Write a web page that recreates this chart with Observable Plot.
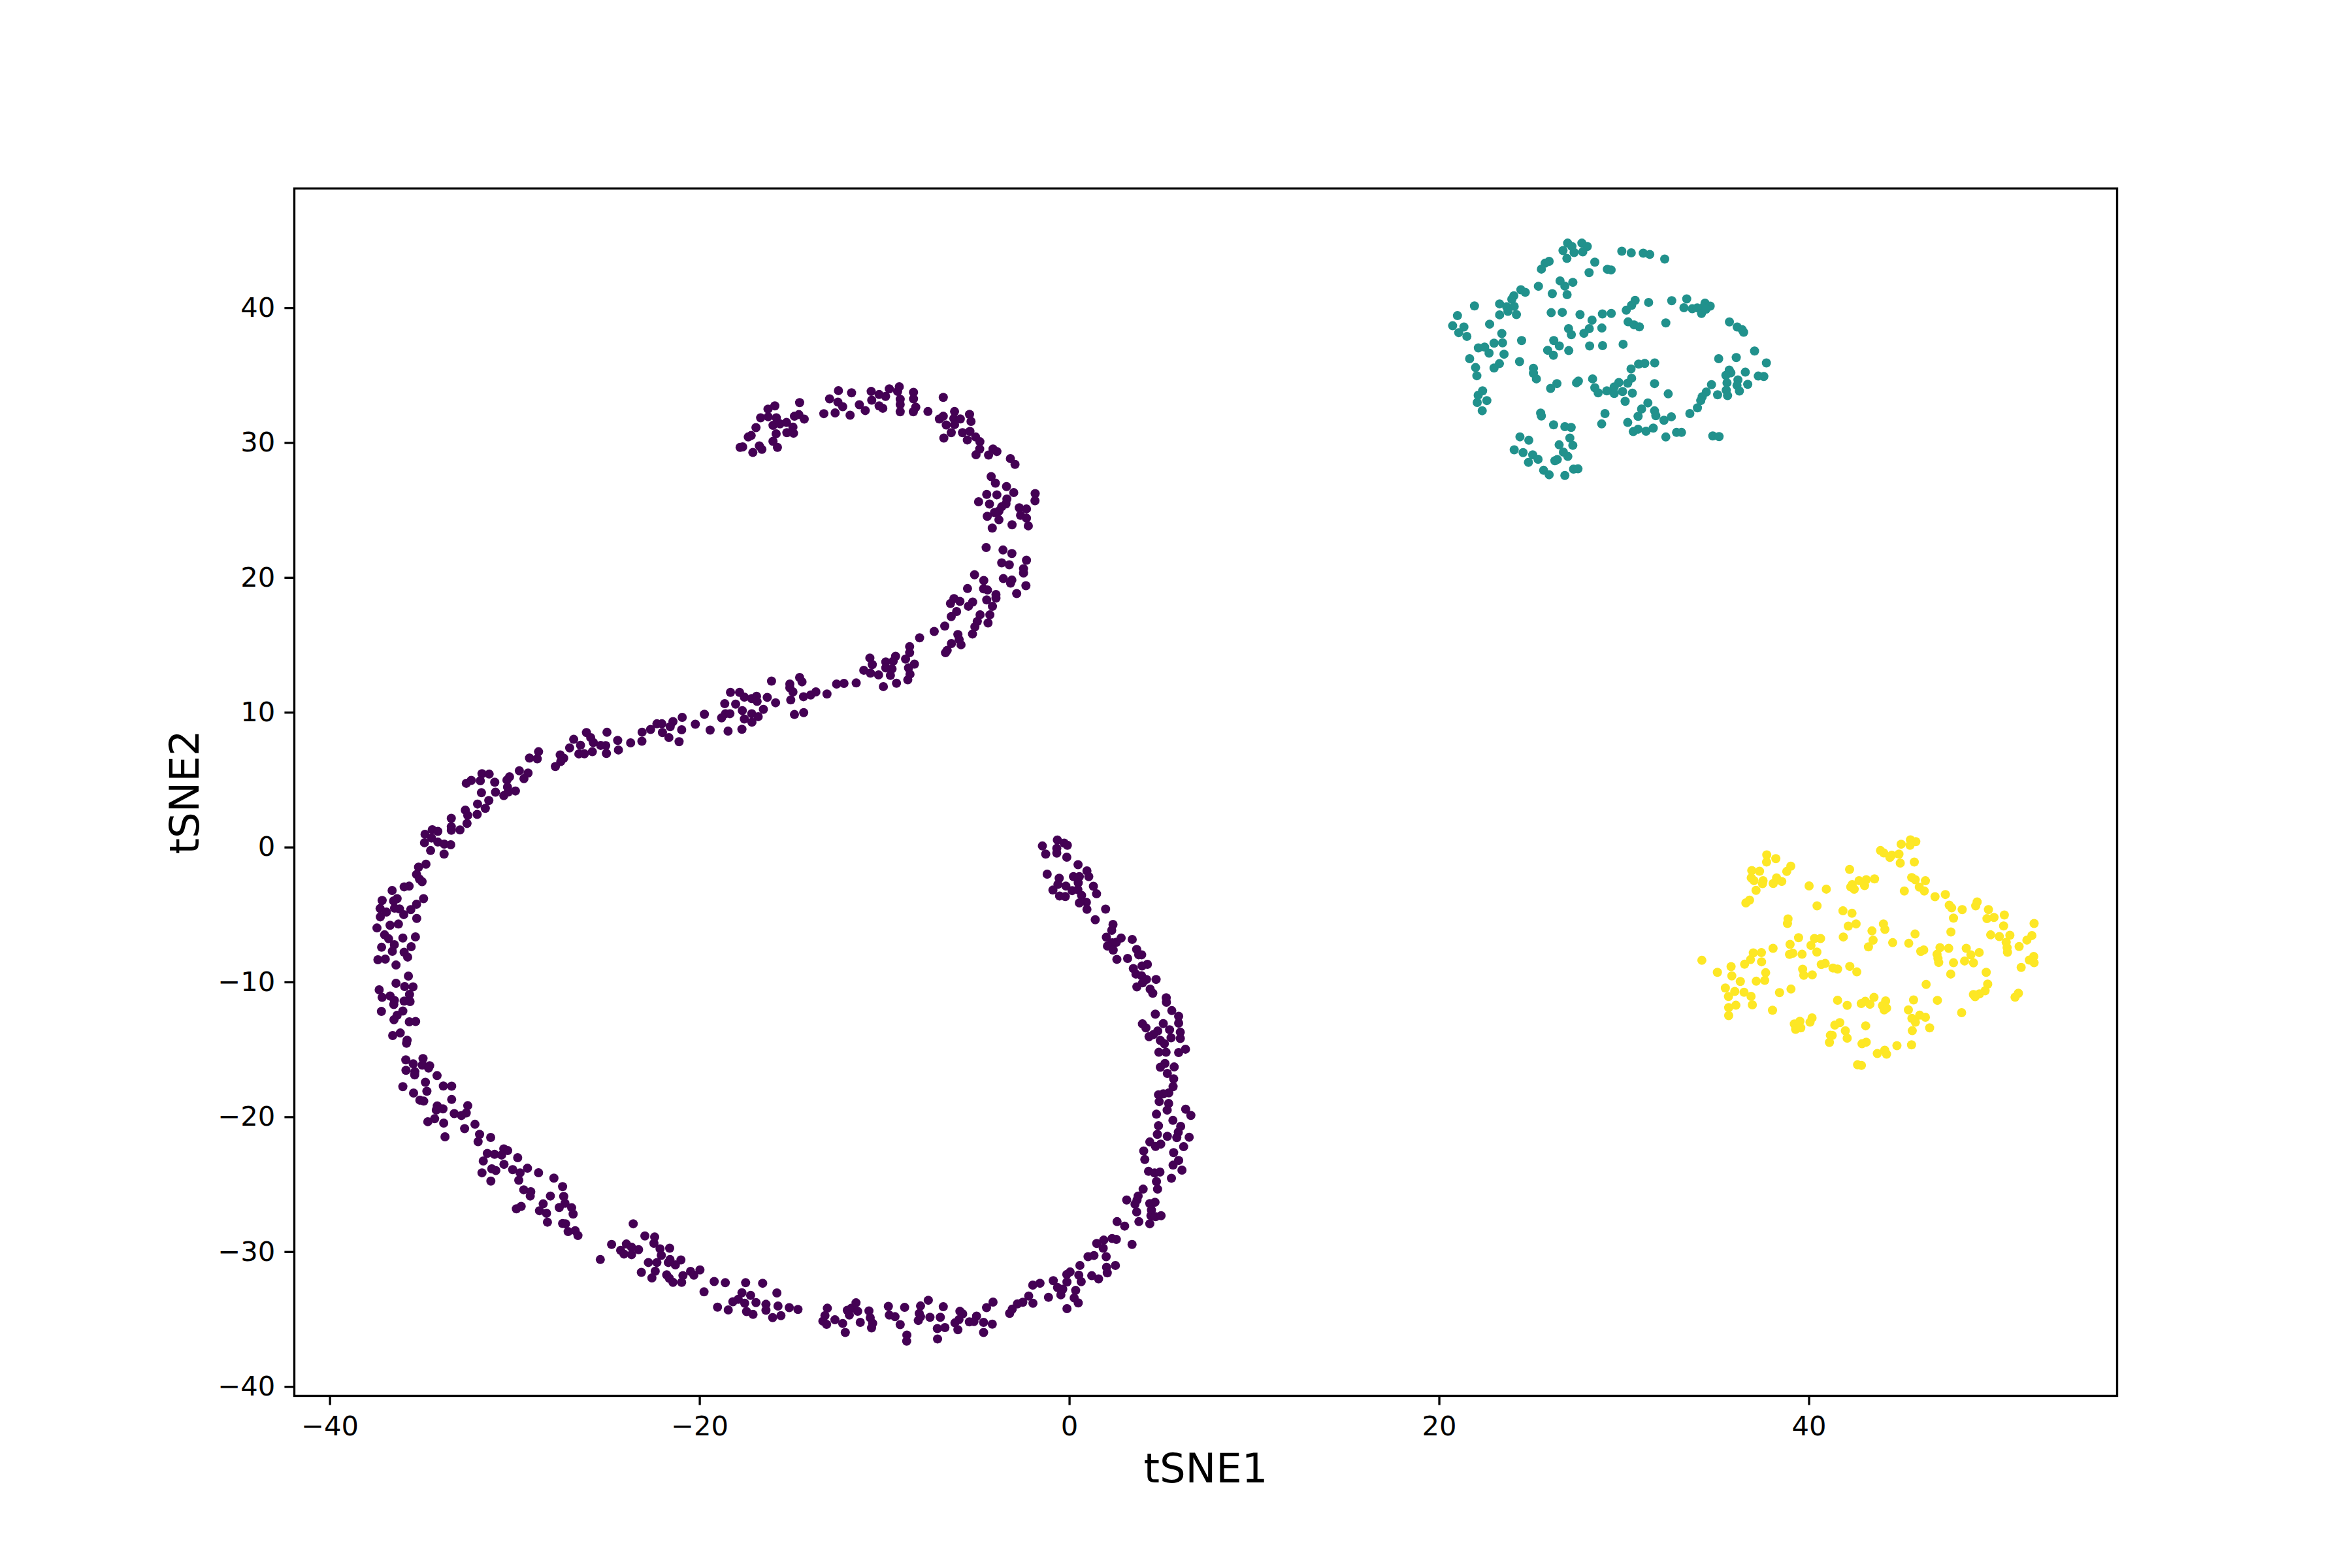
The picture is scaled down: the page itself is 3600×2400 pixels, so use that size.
<!DOCTYPE html>
<html>
<head>
<meta charset="utf-8">
<script src="https://cdn.jsdelivr.net/npm/d3@7"></script>
<script src="https://cdn.jsdelivr.net/npm/@observablehq/plot@0.6"></script>
<style>html,body{margin:0;padding:0;background:#fff}svg{display:block}</style>
</head>
<body>
<div id="chart"></div>
<script>
const xTicks = [-40,-20,0,20,40];
const yTicks = [-40,-30,-20,-10,0,10,20,30,40];
const xLabel = "tSNE1";
const yLabel = "tSNE2";

const clusterTeal = [
[26.94,44.82],[27.17,44.57],[27.71,44.82],[28.0,44.57],[26.69,44.27],[27.29,44.12],[27.76,44.17],[26.9,43.68],[29.87,44.22],[30.38,44.1],[31.03,44.07],[31.38,43.98],[32.19,43.64],[25.94,43.47],[25.72,43.33],[25.52,42.89],[28.41,43.41],[28.1,42.63],[29.09,42.88],[29.29,42.83],[26.53,42.02],[27.22,41.91],[26.79,41.63],[25.36,41.62],[24.41,41.36],[24.65,41.17],[26.11,41.07],[26.91,41.0],[24.03,40.91],[23.92,40.66],[30.59,40.57],[30.4,40.21],[30.11,39.84],[31.32,40.42],[32.57,40.55],[33.38,40.68],[33.23,40.03],[33.68,39.95],[33.95,40.02],[34.37,40.37],[34.29,40.08],[34.65,40.15],[34.18,39.6],[34.42,39.92],[21.9,40.16],[23.26,40.31],[23.64,40.1],[24.05,40.13],[23.71,39.76],[23.26,39.5],[24.17,39.52],[20.98,39.44],[20.72,38.69],[21.33,38.6],[21.05,38.18],[21.49,37.9],[22.72,38.81],[26.05,39.66],[26.65,39.68],[27.61,39.52],[28.82,39.57],[29.3,39.6],[28.26,39.11],[30.21,38.98],[30.53,38.76],[30.82,38.61],[32.25,38.9],[35.69,38.97],[36.11,38.6],[36.38,38.4],[36.46,38.21],[28.11,38.48],[28.79,38.52],[27.82,38.13],[26.99,38.48],[27.14,38.03],[23.38,38.11],[24.45,37.59],[22.96,37.4],[23.42,37.42],[22.11,37.05],[22.45,37.11],[22.69,36.66],[23.5,36.58],[26.19,37.59],[26.49,37.19],[25.86,36.87],[26.17,36.5],[27.0,36.85],[28.13,37.19],[28.83,37.22],[29.94,37.32],[21.64,36.25],[23.25,35.88],[22.96,35.56],[24.34,36.03],[21.96,35.59],[22.03,34.98],[25.09,35.53],[25.09,35.17],[25.25,34.75],[30.37,35.49],[30.78,35.85],[31.11,35.9],[31.65,35.93],[35.11,36.25],[36.06,36.33],[37.05,36.82],[37.69,35.93],[36.55,35.25],[35.68,35.4],[35.77,35.2],[35.5,35.01],[37.25,34.96],[37.55,34.93],[30.4,34.8],[30.19,34.43],[28.29,34.75],[27.52,34.59],[27.42,34.46],[26.36,34.4],[26.02,34.04],[29.71,34.48],[29.46,34.15],[28.41,34.09],[28.59,33.72],[29.06,33.86],[29.46,33.67],[29.91,33.81],[30.44,33.69],[31.64,34.4],[32.38,33.64],[34.72,34.32],[36.15,34.67],[36.1,34.27],[36.68,34.35],[36.23,33.85],[35.56,34.46],[35.52,33.91],[35.59,33.51],[35.05,33.57],[34.44,33.78],[34.22,33.43],[34.14,33.14],[33.96,32.6],[33.55,32.18],[22.34,33.86],[22.1,33.54],[22.05,33.0],[22.57,33.14],[22.32,32.39],[30.05,33.09],[31.28,32.97],[30.94,32.52],[31.64,32.38],[31.71,32.02],[30.75,31.97],[28.96,32.18],[28.78,31.41],[30.19,31.52],[32.15,31.68],[32.55,31.94],[25.48,32.22],[25.52,32.0],[26.18,31.34],[26.79,31.21],[27.13,31.15],[30.49,30.84],[30.75,31.02],[31.18,30.87],[31.57,31.1],[32.83,30.78],[33.1,30.78],[32.25,30.44],[34.79,30.52],[35.13,30.47],[24.36,30.45],[24.84,30.2],[27.06,30.36],[27.22,29.82],[26.48,29.86],[24.05,29.49],[24.53,29.28],[25.05,29.11],[25.34,28.79],[24.82,28.56],[26.71,29.32],[26.95,29.0],[26.38,28.77],[26.25,28.68],[25.64,27.97],[25.94,27.64],[26.79,27.59],[27.26,28.06],[27.5,28.08]
];

const clusterYellow = [
[45.48,0.56],[45.77,0.43],[44.98,0.24],[45.46,0.16],[43.86,-0.23],[44.04,-0.41],[44.47,-0.57],[44.37,-0.74],[44.86,-0.49],[44.93,-1.16],[45.69,-1.08],[37.71,-0.55],[37.7,-1.08],[38.2,-0.83],[39.01,-1.39],[38.79,-1.78],[36.9,-1.71],[37.32,-1.76],[36.87,-2.26],[37.02,-2.46],[37.51,-2.46],[37.48,-2.68],[38.24,-2.26],[38.06,-2.67],[38.52,-2.52],[37.13,-3.18],[36.78,-3.91],[36.58,-4.11],[42.19,-1.63],[40.0,-2.85],[40.93,-3.09],[42.7,-2.46],[43.09,-2.39],[43.54,-2.33],[43.0,-2.83],[42.33,-2.75],[42.25,-2.93],[42.44,-3.1],[45.55,-2.23],[45.74,-2.39],[46.29,-2.47],[45.96,-2.94],[46.23,-3.23],[45.15,-3.23],[46.81,-3.65],[47.37,-3.49],[47.58,-4.28],[47.71,-4.48],[48.28,-4.61],[49.09,-4.04],[49.01,-4.33],[49.7,-4.61],[49.62,-5.28],[50.0,-5.19],[50.56,-5.01],[47.81,-5.24],[50.52,-5.82],[52.17,-5.64],[40.43,-4.33],[41.83,-4.7],[42.32,-4.88],[38.86,-5.3],[38.83,-5.64],[42.12,-5.83],[42.54,-5.67],[44.02,-5.67],[44.1,-6.08],[43.4,-6.19],[47.67,-6.27],[39.43,-6.69],[40.29,-6.75],[40.62,-6.75],[41.85,-6.64],[45.73,-6.42],[49.82,-6.48],[50.29,-6.61],[50.86,-6.51],[52.05,-6.53],[51.78,-6.87],[43.46,-6.88],[44.52,-7.06],[45.39,-7.11],[38.97,-7.19],[40.1,-7.26],[43.21,-7.37],[38.05,-7.48],[50.66,-7.03],[50.71,-7.43],[50.73,-7.77],[51.36,-7.35],[36.98,-7.82],[37.42,-7.8],[39.12,-7.84],[38.94,-7.93],[39.62,-7.92],[40.42,-7.76],[46.04,-7.71],[46.2,-7.6],[47.08,-7.43],[47.55,-7.48],[48.5,-7.48],[49.2,-7.79],[48.75,-7.97],[46.92,-7.92],[46.97,-8.24],[47.01,-8.53],[52.15,-8.08],[51.91,-8.35],[52.17,-8.55],[34.2,-8.37],[36.83,-8.32],[37.43,-8.48],[36.51,-8.66],[35.78,-8.84],[40.66,-8.68],[40.87,-8.6],[41.29,-8.94],[41.54,-9.02],[42.2,-8.82],[42.58,-9.23],[47.81,-8.55],[48.41,-8.42],[48.89,-8.56],[51.47,-8.9],[35.04,-9.26],[39.65,-9.03],[39.71,-9.48],[40.17,-9.45],[37.65,-9.29],[35.82,-9.53],[36.28,-9.94],[37.14,-9.92],[37.6,-9.86],[47.66,-9.39],[49.58,-9.26],[35.47,-10.42],[35.98,-10.68],[36.48,-10.74],[35.64,-11.05],[36.86,-11.04],[38.4,-10.76],[39.02,-10.5],[46.33,-10.16],[49.66,-10.13],[49.52,-10.63],[49.21,-10.86],[48.89,-10.91],[48.98,-11.07],[51.32,-10.81],[51.14,-11.1],[41.54,-11.33],[42.06,-11.71],[42.82,-11.58],[43.04,-11.41],[43.29,-11.63],[43.51,-11.12],[44.14,-11.38],[43.97,-11.73],[44.19,-11.92],[44.06,-12.05],[45.65,-11.31],[46.94,-11.34],[35.65,-11.88],[36.04,-11.7],[36.93,-11.67],[35.65,-12.47],[38.02,-12.07],[45.37,-12.05],[48.25,-12.25],[45.98,-12.44],[46.29,-12.59],[45.56,-12.68],[45.75,-12.96],[40.16,-12.64],[40.05,-12.96],[39.5,-12.89],[39.2,-13.09],[39.27,-13.49],[39.55,-13.38],[41.66,-12.99],[41.39,-13.17],[43.06,-13.23],[46.52,-13.38],[45.58,-13.59],[41.96,-13.6],[41.15,-13.93],[41.25,-13.94],[42.06,-14.14],[41.1,-14.46],[43.09,-14.44],[42.86,-14.56],[45.54,-14.64],[44.75,-14.7],[44.09,-15.04],[43.69,-15.28],[44.19,-15.33],[42.62,-16.12],[42.83,-16.16]
];

const clusterPurpleUpper = [
[-17.82,29.67],[-17.68,29.71],[-17.13,29.29],[-16.78,29.78],[-16.64,29.52],[-17.38,30.44],[-17.22,30.55],[-16.96,31.14],[-16.71,31.86],[-16.31,32.51],[-15.94,32.75],[-16.3,31.94],[-15.86,31.86],[-16.04,31.3],[-15.66,31.41],[-15.31,31.52],[-15.87,30.68],[-16.04,30.12],[-15.8,29.67],[-15.29,30.76],[-14.93,30.72],[-14.96,31.17],[-14.88,31.98],[-14.64,32.1],[-14.35,31.77],[-14.6,32.99],[-13.29,32.17],[-12.98,33.27],[-12.5,33.88],[-12.68,32.23],[-12.53,33.03],[-12.27,32.69],[-11.79,33.72],[-11.87,32.06],[-11.37,32.83],[-11.05,32.4],[-10.73,33.82],[-10.7,33.17],[-10.3,33.59],[-10.3,32.75],[-10.1,32.57],[-9.95,33.45],[-9.75,34.01],[-9.3,33.82],[-9.21,34.17],[-9.16,33.24],[-9.16,32.86],[-9.16,32.31],[-8.44,33.75],[-8.44,33.27],[-8.32,32.65],[-8.45,32.31],[-7.66,32.33],[-6.83,33.38],[-7.04,31.78],[-6.83,31.98],[-6.22,32.33],[-6.26,31.81],[-5.91,31.78],[-6.22,31.36],[-6.67,31.33],[-5.41,32.12],[-5.33,31.6],[-6.4,30.76],[-6.8,30.36],[-5.79,30.76],[-5.39,30.86],[-5.53,30.22],[-5.08,30.44],[-4.85,30.09],[-4.86,29.55],[-5.06,29.12],[-4.38,29.1],[-4.14,29.55],[-3.93,29.36],[-3.2,28.84],[-2.95,28.41],[-4.24,27.5],[-4.01,27.02],[-3.41,26.76],[-3.02,26.32],[-4.48,26.18],[-3.93,26.15],[-4.92,25.64],[-4.33,25.47],[-3.39,25.84],[-3.44,25.48],[-3.67,25.27],[-3.82,24.95],[-4.06,24.84],[-1.86,26.24],[-1.87,25.71],[-2.72,25.19],[-2.33,25.11],[-2.65,24.63],[-2.33,24.42],[-4.45,24.56],[-3.82,24.3],[-3.11,23.93],[-2.23,23.85],[-4.18,23.69],[-4.51,22.24],[-3.6,22.06],[-3.12,21.8],[-2.33,21.3],[-3.67,21.11],[-3.26,20.96],[-2.49,20.67],[-2.49,20.35],[-5.14,20.22],[-4.64,19.8],[-3.58,19.94],[-3.12,19.83],[-3.19,19.6],[-2.36,19.41],[-5.52,19.2],[-4.65,19.18],[-4.44,19.09],[-3.98,18.76],[-3.98,18.49],[-2.86,18.83],[-6.25,18.46],[-5.93,18.25],[-6.44,18.09],[-5.24,18.2],[-5.47,17.89],[-4.48,18.36],[-4.17,17.88],[-6.11,17.5],[-6.4,17.12],[-4.84,17.26],[-4.31,17.25],[-4.41,16.65],[-4.99,16.76],[-5.12,16.36],[-5.25,15.83],[-6.75,16.42],[-7.32,16.02],[-8.11,15.55],[-6.04,15.79],[-5.97,15.42],[-5.87,15.03],[-6.39,15.12],[-6.62,14.62],[-6.71,14.44],[-8.65,14.89],[-8.65,14.44],[-8.87,13.97],[-9.41,14.18],[-9.54,13.81],[-9.94,13.76],[-10.8,14.05],[-10.67,13.56],[-8.39,13.6],[-8.71,13.32],[-8.63,12.85],[-8.75,12.43],[-9.6,13.24],[-9.69,12.76],[-9.94,13.32],[-9.36,12.18],[-10.07,11.93],
[-16.12,12.34],[-14.6,12.6],[-14.47,12.28],[-15.13,12.12],[-15.13,11.84],[-14.96,11.54],[-15.08,10.94],[-14.39,11.18],[-14.0,11.31],[-13.72,11.54],[-13.12,11.38],[-12.6,12.12],[-12.2,12.17],[-11.54,12.2],[-11.13,13.14],[-10.77,12.93],[-10.33,12.8],[-18.34,11.5],[-17.85,11.5],[-17.59,11.15],[-17.19,11.04],[-16.93,11.21],[-16.9,10.83],[-16.35,11.13],[-15.9,10.73],[-18.65,10.66],[-18.06,10.63],[-17.7,10.15],[-16.56,10.24],[-17.19,9.92],[-16.84,9.7],[-17.59,9.53],[-17.18,9.29],[-18.61,9.92],[-18.37,9.92],[-18.82,9.61],[-18.47,8.63],[-17.72,8.76],[-14.88,9.86],[-14.38,10.0]
];

const clusterPurpleWest = [
[-19.75,9.88],[-20.24,9.14],[-19.44,8.7],[-20.95,9.65],[-20.98,8.73],[-21.12,7.84],[-21.45,9.33],[-21.6,8.96],[-22.32,9.17],[-22.05,9.17],[-22.02,8.52],[-21.67,8.15],[-22.66,8.75],[-23.12,8.55],[-23.13,7.88],[-23.74,7.76],[-25.02,8.54],[-24.44,7.94],[-24.4,7.23],[-25.05,6.97],[-25.09,7.55],[-25.36,7.57],[-26.13,8.52],[-25.9,8.15],[-25.76,7.78],[-25.81,7.1],[-26.45,7.58],[-26.82,8.02],[-27.04,7.38],[-26.54,6.94],[-26.24,6.95],[-27.55,6.86],[-27.36,6.62],[-27.52,6.37],[-27.81,6.0],[-28.72,7.1],[-29.21,6.63],[-28.79,6.57],[-29.76,5.69],[-29.29,5.52],[-29.51,5.1],[-30.29,5.24],[-30.43,5.0],[-31.78,5.47],[-31.39,5.44],[-31.87,4.95],[-32.36,4.97],[-32.63,4.76],[-31.09,4.84],[-30.4,4.48],[-31.81,4.06],[-31.05,4.1],[-29.97,4.19],[-30.6,3.84],[-30.36,4.11],[-31.41,3.48],[-32.02,3.22],[-31.6,2.9],[-32.68,2.77],[-32.55,2.38],[-32.04,2.45],[-32.59,1.78],[-33.44,2.16],[-33.44,1.53],[-33.44,1.28],[-32.97,1.3],[-34.47,1.32],[-34.17,1.19],[-34.86,0.98],[-34.51,0.7],[-34.89,0.35],[-34.17,0.4],[-33.82,0.25],[-33.47,0.2],[-34.56,-0.23],[-33.83,-0.49],[-34.81,-1.24],[-35.21,-1.46],[-35.32,-2.0],[-35.16,-2.35],[-35.02,-2.54],[-35.72,-2.87],[-35.99,-2.92],[-36.64,-3.19],[-34.94,-3.8],[-35.32,-4.21],[-35.63,-4.61],[-36.37,-3.8],[-36.56,-3.97],[-37.18,-3.93],[-36.51,-4.5],[-36.24,-4.56],[-36.01,-4.98],[-37.29,-4.53],[-36.95,-4.79],[-37.28,-5.15],[-35.31,-5.26],
[-37.46,-5.97],[-36.75,-5.77],[-36.3,-5.68],[-37.05,-6.48],[-36.83,-6.77],[-36.06,-6.72],[-35.38,-6.63],[-36.52,-7.21],[-37.21,-7.4],[-35.61,-7.36],[-36.63,-7.7],[-35.99,-7.77],[-35.8,-8.13],[-37.41,-8.33],[-37.01,-8.28],[-36.43,-8.72],[-35.76,-9.54],[-36.43,-10.07],[-35.96,-10.32],[-35.51,-10.34],[-37.34,-10.56],[-35.7,-10.9],[-37.18,-11.12],[-36.75,-11.02],[-36.52,-11.34],[-36.55,-11.65],[-35.99,-11.39],[-35.67,-11.43],[-37.22,-12.16],[-36.06,-12.13],[-36.37,-12.45],[-36.54,-12.77],[-35.71,-12.93],[-35.37,-12.91],[-36.2,-13.76],[-36.61,-13.95],[-35.83,-14.3],[-35.86,-14.52],[-35.9,-15.75],[-34.97,-15.66],[-35.5,-16.05],[-35.01,-16.14],[-34.61,-16.19],[-34.67,-16.36],[-35.89,-16.53],[-35.41,-16.63],[-35.42,-16.87],[-34.21,-16.92],[-34.84,-17.41],[-33.87,-17.69],[-33.42,-17.7],[-36.06,-17.74],[-34.76,-18.08],[-35.48,-18.21],[-35.14,-18.74],[-34.93,-18.81],[-33.42,-18.69],[-32.55,-19.15],[-34.2,-19.17],[-33.89,-19.39],[-34.25,-19.47],[-33.28,-19.74],[-32.63,-19.69],[-32.89,-19.88],[-34.34,-20.12],[-34.71,-20.34],[-33.85,-20.44],[-32.16,-20.53],[-32.72,-20.85],[-33.78,-21.46],[-31.91,-21.28],[-31.31,-21.51],[-31.99,-21.82],[-30.6,-22.35],[-30.39,-22.48],[-31.49,-22.69],[-31.1,-22.76],[-30.72,-22.81],[-29.85,-23.01],[-31.71,-23.25],[-30.59,-23.5],[-29.32,-23.79],[-31.25,-23.83],[-31.03,-23.96],[-30.12,-23.89],[-29.72,-24.13],[-31.78,-24.13],[-28.72,-24.12],[-29.79,-24.68],[-31.3,-24.74],[-27.89,-24.52],[-27.42,-25.15],[-29.52,-25.39],[-29.14,-25.53],[-29.17,-25.85],[-28.08,-25.85],[-27.36,-25.88],[-27.29,-26.39],[-28.47,-26.43],[-27.6,-26.7],[-26.93,-26.72],[-29.66,-26.62],[-29.92,-26.8],[-28.67,-26.94],[-28.29,-27.13],[-26.85,-27.19],[-28.24,-27.79],[-27.42,-27.89],[-27.26,-27.91],[-27.12,-28.49],[-26.74,-28.42],[-26.59,-28.78]
];

const clusterPurpleSouth = [
[-23.6,-27.91],[-22.97,-28.81],[-22.44,-28.89],[-22.48,-29.36],[-24.77,-29.44],[-23.97,-29.41],[-24.28,-29.88],[-24.1,-30.15],[-23.69,-29.65],[-23.69,-30.2],[-23.31,-29.83],[-22.15,-29.77],[-21.63,-29.72],[-22.08,-30.25],[-25.38,-30.56],[-22.78,-30.78],[-22.32,-30.78],[-21.61,-30.56],[-21.7,-30.78],[-21.32,-30.96],[-21.02,-30.59],[-22.41,-31.43],[-23.16,-31.51],[-22.59,-31.93],[-21.79,-31.7],[-21.65,-31.95],[-21.45,-32.25],[-20.91,-31.75],[-20.98,-32.25],[-20.5,-31.44],[-20.32,-31.72],[-19.99,-31.33],[-19.22,-32.19],[-18.62,-32.28],[-17.52,-32.28],[-16.6,-32.32],[-19.77,-32.96],[-17.72,-33.03],[-17.25,-33.22],[-15.83,-33.04],[-17.92,-33.51],[-18.21,-33.69],[-17.57,-33.8],[-16.96,-33.75],[-19.04,-34.09],[-18.46,-34.3],[-17.47,-34.42],[-17.12,-34.63],[-16.42,-33.88],[-16.42,-34.32],[-15.77,-34.01],[-15.16,-34.13],[-14.69,-34.26],[-15.61,-34.72],[-16.06,-34.87],[-13.1,-34.17],[-13.23,-34.72],[-13.34,-35.13],[-13.14,-35.37],[-12.69,-35.03],[-12.27,-35.3],[-12.13,-35.97],[-12.02,-34.32],[-11.79,-34.16],[-11.55,-33.77],[-11.46,-34.4],[-11.91,-34.68],[-11.32,-35.22],[-10.85,-34.37],[-10.78,-34.88],[-10.65,-35.29],[-10.71,-35.63],[-9.8,-34.03],[-8.92,-34.11],[-9.75,-34.68],[-9.44,-34.8],[-9.16,-35.39],[-8.8,-36.16],[-8.81,-36.61],[-8.06,-34.0],[-7.64,-33.58],[-6.83,-34.06],[-8.13,-34.56],[-8.06,-34.8],[-8.18,-35.08],[-7.55,-34.84],[-6.99,-34.84],[-7.15,-35.68],[-6.74,-35.61],[-7.14,-36.45],[-5.93,-34.4],[-5.78,-34.59],[-5.98,-35.01],[-6.2,-35.26],[-6.04,-35.77],[-5.42,-35.18],[-5.03,-34.76],[-5.17,-35.16],[-4.65,-35.22],[-4.18,-35.35],[-4.65,-35.97],[-4.49,-34.13],[-4.14,-33.72],[-3.24,-34.55],[-3.1,-34.24]
];

const clusterPurpleEast = [
[-1.47,0.11],[-1.29,-0.49],[-0.66,0.55],[-0.29,0.32],[-0.12,0.16],[-0.69,-0.07],[-0.69,-0.42],[-0.15,-0.72],[0.46,-1.28],[0.94,-1.74],[1.04,-2.16],[-1.21,-1.98],[-0.56,-2.28],[-0.63,-2.74],[0.21,-2.16],[0.53,-2.16],[0.47,-2.62],[-0.2,-2.86],[-0.9,-3.16],[0.14,-3.2],[0.45,-3.13],[-0.54,-3.6],[-0.23,-3.64],[1.29,-2.88],[1.46,-3.44],[0.65,-3.55],[0.91,-4.06],[0.53,-4.11],[0.94,-4.59],[1.95,-4.57],[1.39,-5.36],[2.35,-5.71],[2.28,-6.15],[1.99,-6.66],[2.79,-6.72],[2.53,-7.03],[2.31,-7.07],[2.05,-7.31],[2.36,-7.61],[3.39,-6.82],[3.63,-7.56],[3.74,-7.96],[3.9,-7.96],[2.56,-8.3],[3.14,-8.23],[4.21,-8.67],[3.92,-8.79],[3.45,-8.98],[3.59,-9.39],[3.89,-9.51],[4.16,-9.79],[4.68,-9.79],[3.95,-10.04],[3.64,-10.34],[4.36,-10.51],[4.5,-10.81],[5.23,-11.15],[5.24,-11.48],[5.53,-12.1],[4.64,-12.36],[5.9,-12.52],[5.9,-13.03],[3.94,-13.08],[4.13,-13.38],[5.07,-13.06],[5.41,-13.52],[4.77,-13.61],[4.54,-13.87],[4.3,-14.03],[5.99,-13.7],[5.49,-14.12],[5.99,-14.17],[4.91,-14.31],[5.13,-14.56],[4.83,-15.19],[5.22,-15.19],[5.9,-15.21],[6.27,-14.96],[5.16,-16.02],[4.91,-16.3],[5.66,-16.28],[5.29,-16.76],[5.63,-17.16],[5.6,-17.74],[5.37,-18.2],[5.07,-18.27],[4.81,-18.34],[4.85,-18.85],[5.36,-18.99],[5.28,-19.48],[6.28,-19.41],[6.56,-19.87],[4.7,-19.78],[5.59,-20.24],[4.81,-20.64],[6.01,-20.68],[5.88,-21.12],[4.75,-21.28],[5.29,-21.42],[5.8,-21.52],[6.47,-21.49],[4.34,-21.84],[4.93,-22.0],[4.65,-22.17],[6.17,-22.19],[4.01,-22.51],[4.07,-23.14],[5.63,-22.63],[5.9,-23.21],[5.6,-23.56],[6.08,-23.93],[4.27,-24.02],[4.6,-24.14],[4.89,-24.07],[5.51,-24.53],[4.7,-24.78],[4.76,-25.34],[3.98,-25.34],[3.71,-25.85],[3.65,-26.15],[3.09,-26.15],[3.54,-26.45],[4.62,-26.31],[4.34,-26.41],[4.43,-26.89],[3.63,-27.03],[4.4,-27.31],[4.65,-27.38],[4.95,-27.31],[3.75,-27.75],[4.34,-27.91],[2.57,-27.75],[2.98,-28.08],[3.38,-29.44],[2.3,-29.0],[2.53,-29.07],[1.85,-29.12],[1.47,-29.37],[1.82,-29.72],[1.32,-30.26],[1.0,-30.35],[1.98,-30.35],[0.56,-31.0],[2.0,-31.14],[2.48,-31.0],[2.04,-31.55],[0.03,-31.48],[-0.15,-31.67],[0.5,-31.72],[1.2,-31.76],[1.57,-32.0],[-0.14,-32.23],[0.63,-32.2],[-0.88,-32.13],[-1.6,-32.32],[-1.99,-32.46],[-0.65,-32.64],[-0.37,-32.76],[0.33,-32.85],[-0.47,-33.18],[-1.14,-33.36],[0.25,-33.41],[0.47,-33.78],[-2.21,-33.27],[-2.53,-33.73],[-2.82,-33.85],[-1.98,-33.8],[-0.14,-34.2]
];

const clusterPurple = [...clusterPurpleUpper, ...clusterPurpleWest, ...clusterPurpleSouth, ...clusterPurpleEast];

const dot = (data, fill) => Plot.dot(data, {x: d => d[0], y: d => d[1], r: 7, fill, stroke: "none"});

const chart = Plot.plot({
  width: 3600,
  height: 2400,
  marginLeft: 450,
  marginRight: 360,
  marginTop: 288,
  marginBottom: 264,
  style: {background: "#fff", fontFamily: "'DejaVu Sans'", color: "#000"},
  x: {domain: [-41.93, 56.66], label: null},
  y: {domain: [-40.67, 48.87], label: null},
  marks: [
    dot(clusterPurple, "#440154"),
    dot(clusterTeal, "#21918c"),
    dot(clusterYellow, "#fde725"),
    Plot.frame({stroke: "#000", strokeWidth: 3.33}),
    Plot.axisX({ticks: xTicks, tickSize: 14.6, tickPadding: 16.5, fontSize: 41.67, strokeWidth: 3.33, label: null, fill: "#000", stroke: "#000", textStroke: "none"}),
    Plot.axisY({ticks: yTicks, tickSize: 14.6, tickPadding: 14.6, fontSize: 41.67, strokeWidth: 3.33, label: null, fill: "#000", stroke: "#000", textStroke: "none"}),
    Plot.text([xLabel], {frameAnchor: "bottom", lineAnchor: "bottom", dy: 132, fontSize: 62.5, fill: "#000"}),
    Plot.text([yLabel], {frameAnchor: "left", lineAnchor: "bottom", textAnchor: "middle", rotate: -90, dx: -147, fontSize: 62.5, fill: "#000"})
  ]
});
document.getElementById("chart").appendChild(chart);
</script>
</body>
</html>
